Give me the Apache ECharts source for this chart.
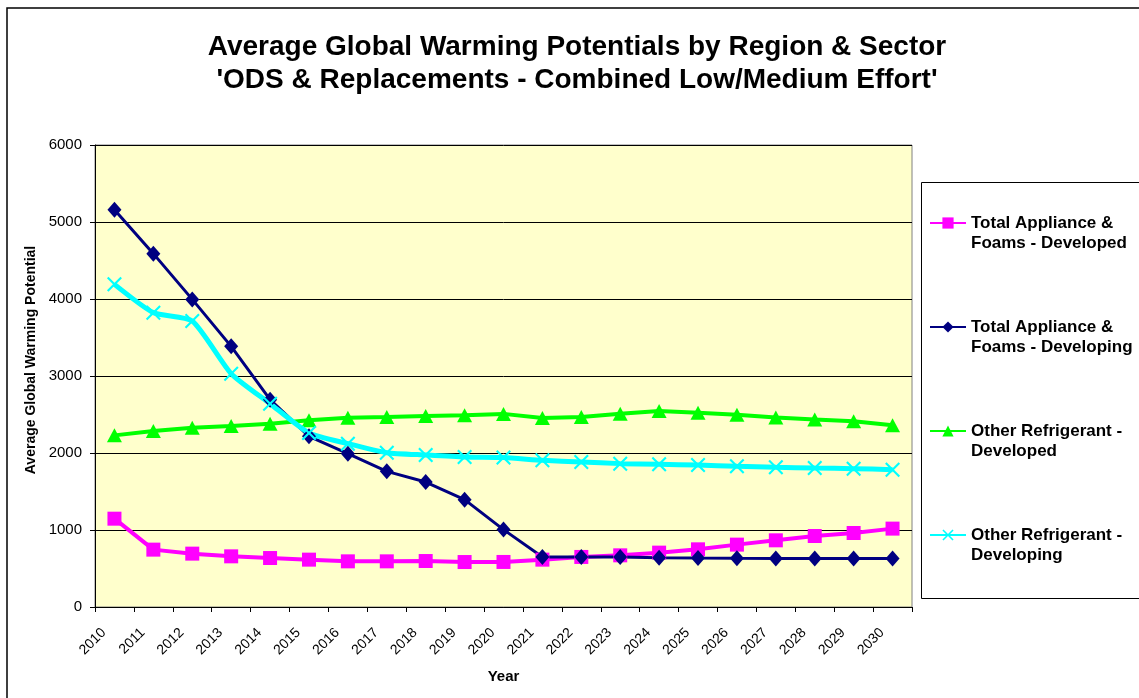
<!DOCTYPE html>
<html>
<head>
<meta charset="utf-8">
<title>Average Global Warming Potentials by Region & Sector</title>
<script src="https://cdn.jsdelivr.net/npm/echarts@6/dist/echarts.min.js"></script>
<style>
  html, body { margin: 0; padding: 0; background: #fff; }
  #chart { width: 1139px; height: 698px; }
</style>
</head>
<body>
<div id="chart"></div>
<script>
// categories
const years = ['2010', '2011', '2012', '2013', '2014', '2015', '2016', '2017', '2018', '2019', '2020',
  '2021', '2022', '2023', '2024', '2025', '2026', '2027', '2028', '2029', '2030']

// series values
const appliancesDeveloped = [1147, 745, 693, 658, 636, 615, 593, 593, 597, 584, 585,
  615, 650, 671, 706, 749, 810, 866, 922, 961, 1018]
const appliancesDeveloping = [5160, 4589, 3995, 3385, 2693, 2216, 1991, 1762, 1623, 1394, 1005,
  650, 650, 650, 640, 635, 632, 630, 630, 630, 630]
const refrigerantDeveloped = [2229, 2286, 2329, 2351, 2381, 2424, 2459, 2468, 2481, 2489, 2508,
  2455, 2468, 2511, 2546, 2524, 2498, 2460, 2434, 2412, 2360]
const refrigerantDeveloping = [4190, 3823, 3714, 3030, 2641, 2260, 2121, 2004, 1974, 1948, 1940,
  1905, 1883, 1862, 1853, 1844, 1827, 1814, 1805, 1797, 1784]

const seriesNames = [
  'Total Appliance & Foams - Developed',
  'Total Appliance & Foams - Developing',
  'Other Refrigerant - Developed',
  'Other Refrigerant - Developing'
]
// two-line legend labels as in the original (leading blank line keeps the icon on the first line)
const legendLabels = {
  'Total Appliance & Foams - Developed': '\nTotal Appliance &\nFoams - Developed',
  'Total Appliance & Foams - Developing': '\nTotal Appliance &\nFoams - Developing',
  'Other Refrigerant - Developed': '\nOther Refrigerant -\nDeveloped',
  'Other Refrigerant - Developing': '\nOther Refrigerant -\nDeveloping'
}

const yTicks = { min: 0, max: 6000, interval: 1000 }

const FONT = 'Liberation Sans, Arial, sans-serif'
// thin filled X shape (Excel "x" marker)
const crossSymbol = 'path://M0,1L1,0L5,4L9,0L10,1L6,5L10,9L9,10L5,6L1,10L0,9L4,5Z'

const chart = echarts.init(document.getElementById('chart'))

chart.setOption({
  animation: false,
  backgroundColor: '#ffffff',
  textStyle: { fontFamily: FONT },
  title: {
    text: "Average Global Warming Potentials by Region & Sector\n'ODS & Replacements - Combined Low/Medium Effort'",
    left: 572,
    top: 26,
    textAlign: 'center',
    textStyle: {
      fontFamily: FONT,
      fontSize: 28,
      fontWeight: 'bold',
      color: '#000',
      lineHeight: 33
    }
  },
  graphic: [
    {
      // outer chart border
      type: 'rect',
      shape: { x: 7, y: 8, width: 1200, height: 800 },
      style: { fill: 'none', stroke: '#000', lineWidth: 1.5 },
      silent: true
    },
    {
      // legend box
      type: 'rect',
      shape: { x: 921.5, y: 182.5, width: 300, height: 416 },
      style: { fill: '#fff', stroke: '#000', lineWidth: 1 },
      silent: true,
      z: -1
    }
  ],
  legend: {
    data: seriesNames,
    orient: 'vertical',
    left: 929,
    top: 193,
    padding: 0,
    itemWidth: 36,
    itemHeight: 14,
    itemGap: 44,
    formatter: name => legendLabels[name],
    textStyle: {
      fontFamily: FONT,
      fontSize: 17,
      fontWeight: 'bold',
      color: '#000',
      lineHeight: 20
    }
  },
  grid: {
    left: 95,
    top: 145,
    right: 227,
    bottom: 91,
    show: true,
    backgroundColor: '#FFFFCC',
    borderColor: '#808080',
    borderWidth: 1
  },
  xAxis: {
    type: 'category',
    data: years,
    boundaryGap: true,
    name: 'Year',
    nameLocation: 'middle',
    nameGap: 62,
    nameTextStyle: { fontFamily: FONT, fontSize: 15, fontWeight: 'bold', color: '#000' },
    axisLine: { lineStyle: { color: '#000', width: 1 } },
    axisTick: { show: true, inside: false, length: 5, alignWithLabel: false, lineStyle: { color: '#000' } },
    axisLabel: {
      rotate: 45,
      margin: 13,
      interval: 0,
      padding: [0, 15, 0, 0],
      fontFamily: FONT,
      fontSize: 14,
      color: '#000'
    },
    splitLine: { show: false }
  },
  yAxis: {
    type: 'value',
    min: yTicks.min,
    max: yTicks.max,
    interval: yTicks.interval,
    name: 'Average Global Warming Potential',
    nameLocation: 'middle',
    nameGap: 56,
    nameTextStyle: {
      fontFamily: FONT,
      fontSize: 14,
      fontWeight: 'bold',
      color: '#000',
      padding: [0, 0, 0, 32]
    },
    axisLine: { show: true, lineStyle: { color: '#000', width: 1 } },
    axisTick: { show: true, inside: false, length: 5, lineStyle: { color: '#000' } },
    axisLabel: {
      margin: 13,
      fontFamily: FONT,
      fontSize: 15,
      color: '#000',
      formatter: v => String(v)
    },
    splitLine: { show: true, lineStyle: { color: '#000', width: 1 } }
  },
  series: [
    {
      name: seriesNames[0],
      type: 'line',
      data: appliancesDeveloped,
      symbol: 'rect',
      symbolSize: 14,
      color: '#FF00FF',
      lineStyle: { width: 4, color: '#FF00FF' },
      itemStyle: { color: '#FF00FF' }
    },
    {
      name: seriesNames[1],
      type: 'line',
      data: appliancesDeveloping,
      symbol: 'diamond',
      symbolSize: [14, 16],
      color: '#000080',
      lineStyle: { width: 3, color: '#000080' },
      itemStyle: { color: '#000080' }
    },
    {
      name: seriesNames[2],
      type: 'line',
      data: refrigerantDeveloped,
      symbol: 'triangle',
      symbolSize: [15, 14],
      color: '#00FF00',
      lineStyle: { width: 4, color: '#00FF00' },
      itemStyle: { color: '#00FF00' }
    },
    {
      name: seriesNames[3],
      type: 'line',
      data: refrigerantDeveloping,
      smooth: 0.2,
      symbol: crossSymbol,
      symbolSize: 15,
      color: '#00FFFF',
      lineStyle: { width: 5, color: '#00FFFF' },
      itemStyle: { color: '#00FFFF' }
    }
  ]
})
</script>
</body>
</html>
